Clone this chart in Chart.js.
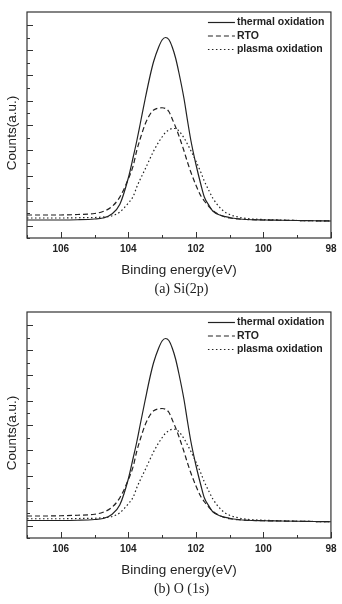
<!DOCTYPE html>
<html>
<head>
<meta charset="utf-8">
<script src="https://cdn.jsdelivr.net/npm/chart.js@4.4.1/dist/chart.umd.min.js"></script>
<style>
  html, body { margin: 0; padding: 0; background: #fff; }
  canvas { display: block; }
</style>
</head>
<body>
<canvas id="siChart" width="342" height="300"></canvas>
<canvas id="oChart" width="342" height="304"></canvas>
<script>
// binding energy (eV) sample points
const energies = [107, 106.5, 106, 105.5, 105, 104.75, 104.5, 104.25, 104, 103.85, 103.75, 103.65, 103.5, 103.35, 103.25, 103.1, 103, 102.9, 102.8, 102.7, 102.6, 102.5, 102.35, 102.25, 102.15, 102, 101.85, 101.75, 101.6, 101.5, 101.25, 101, 100.75, 100.5, 100, 99.5, 99, 98.5, 98];

const seriesNames = ['thermal oxidation', 'RTO', 'plasma oxidation'];
const majorTicks = [106, 104, 102, 100, 98];
const xTitle = 'Binding energy(eV)';
const yTitle = 'Counts(a.u.)';

// (a) Si(2p)
const siThermal = [0.22, 0.22, 0.22, 0.23, 0.26, 0.30, 0.45, 0.85, 1.90, 2.77, 3.38, 4.05, 5.07, 6.02, 6.56, 7.14, 7.42, 7.52, 7.44, 7.14, 6.70, 6.10, 5.07, 4.22, 3.42, 2.46, 1.63, 1.14, 0.78, 0.58, 0.40, 0.32, 0.27, 0.24, 0.22, 0.21, 0.20, 0.19, 0.18];
const siRto = [0.42, 0.42, 0.42, 0.44, 0.48, 0.56, 0.74, 1.14, 1.86, 2.42, 3.00, 3.46, 4.06, 4.46, 4.62, 4.70, 4.71, 4.68, 4.56, 4.26, 3.94, 3.58, 2.98, 2.54, 2.14, 1.62, 1.18, 0.98, 0.74, 0.60, 0.40, 0.30, 0.26, 0.24, 0.22, 0.21, 0.20, 0.19, 0.18];
const siPlasma = [0.30, 0.30, 0.30, 0.31, 0.32, 0.34, 0.38, 0.54, 0.90, 1.18, 1.54, 1.84, 2.26, 2.70, 2.98, 3.34, 3.54, 3.72, 3.82, 3.88, 3.88, 3.78, 3.50, 3.26, 3.00, 2.58, 2.12, 1.78, 1.36, 1.10, 0.66, 0.44, 0.34, 0.28, 0.24, 0.22, 0.20, 0.19, 0.18];

// (b) O (1s)
const oThermal = [0.20, 0.20, 0.20, 0.21, 0.24, 0.28, 0.43, 0.83, 1.86, 2.74, 3.34, 4.02, 5.02, 5.98, 6.52, 7.10, 7.38, 7.48, 7.40, 7.10, 6.66, 6.06, 5.03, 4.18, 3.38, 2.42, 1.60, 1.11, 0.75, 0.55, 0.37, 0.29, 0.24, 0.21, 0.19, 0.18, 0.17, 0.16, 0.15];
const oRto = [0.38, 0.38, 0.39, 0.41, 0.45, 0.53, 0.71, 1.11, 1.83, 2.39, 2.97, 3.43, 4.03, 4.43, 4.59, 4.67, 4.68, 4.65, 4.53, 4.23, 3.91, 3.55, 2.95, 2.51, 2.11, 1.59, 1.15, 0.95, 0.71, 0.57, 0.37, 0.27, 0.23, 0.21, 0.19, 0.18, 0.17, 0.16, 0.15];
const oPlasma = [0.27, 0.27, 0.27, 0.28, 0.29, 0.31, 0.35, 0.51, 0.87, 1.15, 1.51, 1.81, 2.23, 2.67, 2.95, 3.31, 3.51, 3.69, 3.79, 3.85, 3.85, 3.75, 3.47, 3.23, 2.97, 2.55, 2.09, 1.75, 1.33, 1.07, 0.63, 0.41, 0.31, 0.25, 0.21, 0.19, 0.17, 0.16, 0.15];

const ink = '#222';
const sans = '"Liberation Sans", Arial, sans-serif';
const dashes = [[], [5, 3], [1.5, 2.5]];

// box + inward ticks, y title and the legend in the top right corner
const decorations = {
    id: 'decorations',
    afterDraw(chart) {
        const { ctx, chartArea: a, scales: { x, y } } = chart;
        ctx.save();
        ctx.strokeStyle = '#333';
        ctx.lineWidth = 1.2;
        ctx.strokeRect(a.left, a.top, a.right - a.left, a.bottom - a.top);

        ctx.lineWidth = 1;
        ctx.beginPath();
        x.ticks.forEach(t => {
            const px = Math.round(x.getPixelForValue(t.value)) + 0.5;
            const len = t.value % 2 === 0 ? 6 : 3;
            ctx.moveTo(px, a.bottom);
            ctx.lineTo(px, a.bottom - len);
        });
        y.ticks.forEach(t => {
            const half = t.value * 2;
            if (Math.abs(half - Math.round(half)) > 1e-6) return;
            const py = Math.round(y.getPixelForValue(t.value)) + 0.5;
            const len = Number.isInteger(Math.round(half) / 2) ? 6 : 3;
            ctx.moveTo(a.left, py);
            ctx.lineTo(a.left + len, py);
        });
        ctx.stroke();

        // y title
        ctx.save();
        ctx.translate(12, 133);
        ctx.rotate(-Math.PI / 2);
        ctx.font = '13.5px ' + sans;
        ctx.fillStyle = ink;
        ctx.textAlign = 'center';
        ctx.textBaseline = 'middle';
        ctx.fillText(yTitle, 0, 0);
        ctx.restore();

        // legend
        ctx.font = 'bold 10.5px ' + sans;
        ctx.textAlign = 'left';
        ctx.textBaseline = 'middle';
        chart.data.datasets.forEach((ds, i) => {
            const ly = a.top + 10.5 + i * 13.5;
            ctx.beginPath();
            ctx.setLineDash(ds.borderDash || []);
            ctx.lineWidth = ds.borderWidth;
            ctx.strokeStyle = ds.borderColor;
            ctx.moveTo(a.right - 123, ly);
            ctx.lineTo(a.right - 96, ly);
            ctx.stroke();
            ctx.setLineDash([]);
            ctx.fillStyle = ink;
            ctx.fillText(ds.label, a.right - 94, ly);
        });
        ctx.restore();
    }
};

function makeChart(id, caption, series, bottomPad) {
    new Chart(document.getElementById(id), {
        type: 'line',
        data: {
            datasets: series.map((values, i) => ({
                label: seriesNames[i],
                data: energies.map((e, j) => ({ x: e, y: values[j] })),
                borderColor: ink,
                borderWidth: 1.2,
                borderDash: dashes[i],
                pointRadius: 0,
                cubicInterpolationMode: 'monotone',
                fill: false
            }))
        },
        options: {
            responsive: false,
            animation: false,
            layout: { padding: { left: 27, right: 6, top: 12, bottom: bottomPad } },
            plugins: {
                legend: { display: false },
                tooltip: { enabled: false },
                title: {
                    display: true,
                    text: caption,
                    position: 'bottom',
                    color: ink,
                    font: { family: '"Liberation Serif", "Times New Roman", serif', size: 14, weight: 'normal', lineHeight: 1 },
                    padding: { top: 0, bottom: 4 }
                }
            },
            scales: {
                x: {
                    type: 'linear',
                    min: 98,
                    max: 107,
                    reverse: true,
                    afterFit: s => { s.height = 44; },
                    grid: { display: false, drawTicks: false },
                    border: { display: false },
                    ticks: {
                        stepSize: 1,
                        autoSkip: false,
                        maxRotation: 0,
                        padding: 5.5,
                        color: ink,
                        font: { family: sans, size: 10, weight: 'bold' },
                        callback: v => majorTicks.includes(v) ? String(v) : ''
                    },
                    title: {
                        display: true,
                        text: xTitle,
                        color: ink,
                        font: { family: sans, size: 13.5 },
                        padding: { top: 0, bottom: 3.5 }
                    }
                },
                y: {
                    min: -0.5,
                    max: 8.54,
                    afterFit: s => { s.width = 0; },
                    grid: { display: false, drawTicks: false },
                    border: { display: false },
                    ticks: { display: false, stepSize: 0.5 }
                }
            }
        },
        plugins: [decorations]
    });
}

makeChart('siChart', '(a) Si(2p)', [siThermal, siRto, siPlasma], 0);
makeChart('oChart', '(b) O (1s)', [oThermal, oRto, oPlasma], 4);
</script>
</body>
</html>
